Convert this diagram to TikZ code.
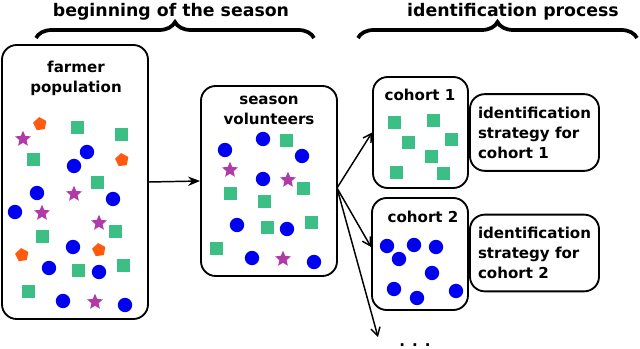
\documentclass[tikz,border=0pt]{standalone}
\usepackage{fontspec}
\setmainfont{DejaVu Sans}
\usepackage{tikz}
\usetikzlibrary{arrows.meta,positioning,calc,shapes.geometric,decorations.pathreplacing}
\usepackage{xcolor}
\definecolor{leaf}{HTML}{3CBF85}
\definecolor{sky}{HTML}{0000F0}
\definecolor{plum}{HTML}{B03BA8}
\definecolor{flame}{HTML}{FF5A10}

\begin{document}
\begin{tikzpicture}[
  x=0.75pt, y=-0.75pt,
  every node/.style={font=\bfseries\fontsize{11.3}{15}\selectfont},
  box/.style={draw=black, line width=1.4pt, rounded corners=11pt, inner sep=0pt},
  strat/.style={box, align=left, minimum width=96.75pt, minimum height=57.5pt},
  ttl/.style={font=\bfseries\fontsize{13}{15}\selectfont},
  hd/.style={align=center},
  sq/.style={rectangle, fill=leaf, minimum size=9.75pt, inner sep=0pt},
  dot/.style={circle, fill=sky, minimum size=10.8pt, inner sep=0pt},
  starm/.style={star, star points=5, star point ratio=2.2, fill=plum, minimum size=12.5pt, inner sep=0pt},
  pent/.style={regular polygon, regular polygon sides=5, fill=flame, minimum size=10.5pt, inner sep=0pt, rotate=8},
  brc/.style={decorate, decoration={brace, amplitude=12pt}, line width=2.8pt},
  arrow/.style={-{Stealth[length=9pt, width=7pt]}, line width=1.1pt},
  arrow fork/.style={-{Straight Barb[length=6pt, width=7pt]}, line width=1.1pt}
]
\useasboundingbox (0,0) rectangle (640,349);

% --- headings
\node[ttl, anchor=base] (t1) at (171,17) {beginning of the season};
\node[ttl, anchor=base] (t2) at (513,17) {identification process};
\coordinate (b1l) at (36,38);  \coordinate (b1r) at (314,38);
\coordinate (b2l) at (358,38); \coordinate (b2r) at (637,38);
\draw[brc] (b1l) -- (b1r);
\draw[brc] (b2l) -- (b2r);

% --- farmer population
\node[box, minimum width=109.5pt, minimum height=205.5pt] (pop) at (75,182) {};
\node[hd] (pop-t) at (76,78) {farmer\\population};
\foreach \x/\y [count=\i] in {40/124, 122/160, 22/255, 99/250}
  \node[pent] (pp\i) at (\x,\y) {};
\foreach \x/\y [count=\i] in {23/139, 74/194, 42/213, 99/223, 95/302}
  \node[starm] (ps\i) at (\x,\y) {};
\foreach \x/\y [count=\i] in {77/128, 121/135, 33/160, 97/183, 42/237, 115/232, 78/271, 123/266, 28/292}
  \node[sq] (pq\i) at (\x,\y) {};
\foreach \x/\y [count=\i] in {87/152, 74/166, 37/193, 113/199, 15/212, 73/247, 49/268, 99/272, 63/301, 125/305}
  \node[dot] (pd\i) at (\x,\y) {};

% --- season volunteers
\node[box, minimum width=102pt, minimum height=142.5pt] (vol) at (269,181) {};
\node[hd] (vol-t) at (269,110) {season\\volunteers};
\foreach \x/\y [count=\i] in {263/139, 225/150, 302/156, 263/179, 237/225, 287/229, 252/258, 314/262}
  \node[dot] (vd\i) at (\x,\y) {};
\foreach \x/\y [count=\i] in {286/141, 303/189, 230/194, 264/202, 267/228, 311/223, 216/249}
  \node[sq] (vq\i) at (\x,\y) {};
\foreach \x/\y [count=\i] in {230/170, 288/180, 283/259}
  \node[starm] (vs\i) at (\x,\y) {};

\draw[arrow] (pop.east) -- (vol.west);

% --- cohorts
\node[box, minimum width=71.25pt, minimum height=83.25pt] (c1) at (420.5,132.5) {};
\node (c1-t) at (420,95) {cohort 1};
\foreach \x/\y [count=\i] in {394/123, 433/121, 408/143, 451/140, 431/157, 396/173, 443/174}
  \node[sq] (cq\i) at (\x,\y) {};

\node[box, minimum width=72pt, minimum height=84pt] (c2) at (420,254) {};
\node (c2-t) at (423,217) {cohort 2};
\foreach \x/\y [count=\i] in {387/246, 414/245, 436/247, 399/259, 432/273, 394/289, 417/298, 456/291}
  \node[dot] (cd\i) at (\x,\y) {};

\node[strat] (s1) at (534.5,132.5) {identification\\strategy for\\cohort 1};
\node[strat] (s2) at (534.5,253) {identification\\strategy for\\cohort 2};

\coordinate (fork) at (337,188);
\coordinate (more) at (378,337);
\draw[arrow fork] (fork) -- (c1.west);
\draw[arrow fork] (fork) -- ($(c2.west)+(0,-7)$);
\draw[arrow fork] (fork) -- (more);
\node[anchor=base, inner sep=0pt] (dots) at (415,347) {. . .};

\end{tikzpicture}
\end{document}
